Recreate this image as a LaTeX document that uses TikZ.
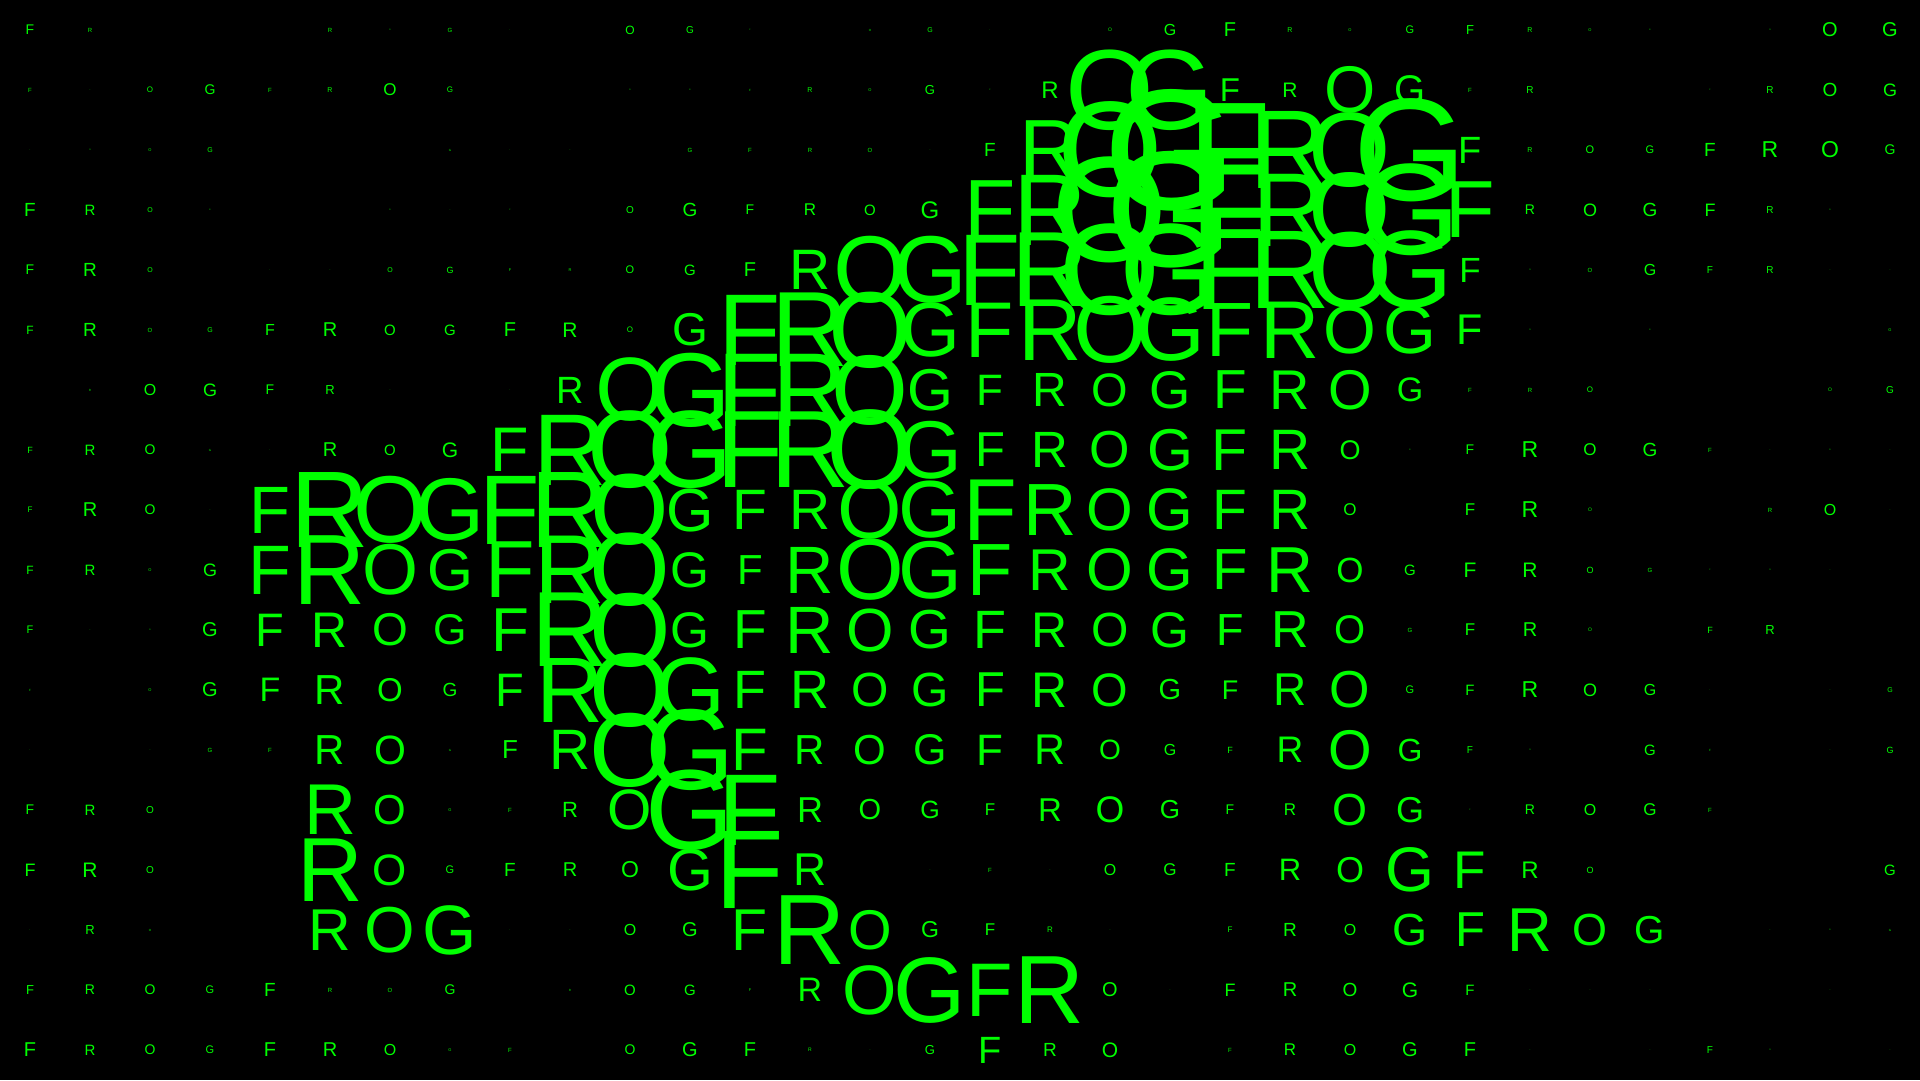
\documentclass[tikz,border=0pt]{standalone}
\usepackage{fontspec}
\setmainfont{Liberation Sans}
\definecolor{frogGreen}{RGB}{0,255,0}
% letter of a column: the word repeats along every row
\newcommand{\frogLetter}[1]{\pgfmathtruncatemacro{\letterIdx}{mod(#1,4)}%
  \ifcase\letterIdx F\or R\or O\or G\fi}

\begin{document}
\begin{tikzpicture}[
  x=1pt, y=-1pt,
  cellLetter/.style={inner sep=0pt, outer sep=0pt, anchor=center, text=frogGreen},
]
  % Background and page size
  \fill[black] (0,0) rectangle (1920,1080);
  \useasboundingbox (0,0) rectangle (1920,1080);

  % Font size of each cell, one line per row (0 leaves the cell empty)
  \foreach \rowSizes [count=\row from 0] in {
    {14,6,0,0,0,6,2,6,1,0,12,10,2,0,3,7,1,0,5,16,20,7,4,11,13,7,4,2,0,2,20,20},
    {6,1,8,14,6,7,17,8,0,0,2,2,3,7,4,13,2,24,114,114,33,21,66,40,6,10,0,0,2,10,19,18},
    {1,2,4,7,0,0,0,3,1,1,0,6,6,6,6,1,19,84,136,172,135,112,106,146,38,7,11,11,19,23,23,14},
    {19,15,7,2,0,0,2,1,2,0,10,19,14,17,15,24,84,102,150,165,130,105,106,130,81,14,18,19,18,10,2,0},
    {14,19,7,0,1,1,7,9,4,4,11,15,20,57,95,95,102,107,130,130,116,112,108,110,35,2,6,16,10,10,1,1},
    {12,19,6,7,16,20,15,15,20,21,8,46,102,107,108,77,79,88,95,90,77,82,68,68,43,2,0,2,0,0,0,4},
    {0,3,16,18,14,13,1,0,1,38,90,105,105,105,99,59,44,48,47,53,55,56,56,34,6,6,8,0,0,0,5,10},
    {9,15,14,3,1,20,15,21,63,102,110,110,110,110,113,82,49,51,52,59,59,57,27,2,14,23,17,19,6,1,2,1},
    {8,20,14,1,67,109,95,89,99,109,101,61,57,57,83,81,88,74,60,60,57,57,17,0,17,23,5,0,0,6,16,1},
    {12,15,4,18,70,100,72,59,81,98,104,50,42,67,87,82,74,59,60,60,58,65,35,15,21,21,9,6,2,2,1,0},
    {11,1,2,20,47,50,46,43,62,107,105,50,55,67,61,55,54,50,48,50,45,52,40,6,17,20,5,0,9,13,0,0},
    {3,0,4,20,34,42,33,19,47,93,105,90,54,54,48,48,49,50,47,29,27,46,52,11,15,23,18,16,1,0,1,7},
    {1,0,1,6,6,42,41,3,26,57,105,115,60,42,42,43,44,43,28,16,9,37,56,32,10,2,0,15,3,0,1,9},
    {14,15,10,0,0,72,42,4,6,22,57,114,102,36,29,25,17,33,37,26,14,17,45,36,2,14,16,17,6,0,0,0},
    {18,21,10,0,0,91,44,11,19,20,23,59,112,46,0,1,6,1,16,17,19,31,36,63,53,24,9,0,0,0,0,15},
    {1,13,3,0,0,59,65,70,1,1,16,20,59,100,56,23,17,8,1,0,8,19,16,45,49,62,45,39,0,1,2,3},
    {13,14,14,11,19,6,6,14,0,3,15,15,4,34,70,93,76,97,20,1,18,20,19,21,15,1,1,1,0,0,1,0},
    {20,15,14,11,20,20,16,4,6,0,14,20,20,5,1,13,38,19,21,0,6,17,16,20,20,1,0,1,10,2,0,1}%
  } {
    \foreach \cellSize [count=\col from 0] in \rowSizes {
      \ifnum\cellSize>0
        \node[cellLetter, font=\fontsize{\cellSize}{\cellSize}\selectfont]
          (cell-\row-\col) at (30+60*\col, 30+60*\row) {\frogLetter{\col}};
      \fi
    }
  }
\end{tikzpicture}
\end{document}
